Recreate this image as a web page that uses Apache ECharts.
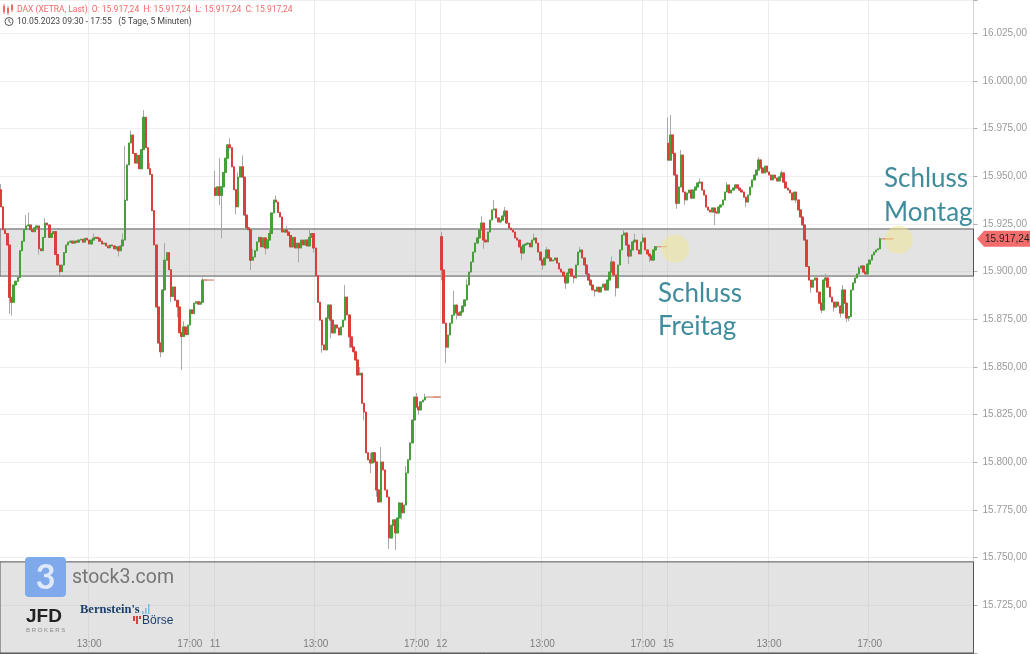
<!DOCTYPE html>
<html>
<head>
<meta charset="utf-8">
<script src="https://cdn.jsdelivr.net/npm/echarts@6.0.0/dist/echarts.min.js"></script>
<style>
html,body{margin:0;padding:0;background:#fff;}
#c{width:1030px;height:654px;}
</style>
</head>
<body>
<div id="c"></div>
<script>
// ---------------- data ----------------
const days = ['10', '11', '12', '15'];
const dayStartTimes = ['09:30', '09:00', '09:00', '09:00'];
const dayOpens = [15943, 15944, 15918.4, 15967.4];
const emptyDay = '16';
const emptySlots = 38;

const closes10 = [
15934,15922,15920,15914,15886.5,15884,15893,15895,15897,15911,
15916,15922,15924,15924.5,15922,15921,15923,15924,15912,15911,
15918,15925.5,15924.5,15918,15920,15921,15909,15903.5,15900,15903.5,
15910,15914,15915.5,15916,15915,15916,15915.5,15916.6,15917,15915.5,
15917.5,15916.6,15914.5,15916.6,15917.5,15918,15917.5,15916,15914.5,15915,
15913.5,15912.5,15914,15913.5,15912,15913,15911,15913.5,15916.6,15937.5,
15956,15967.5,15971.7,15962,15957,15961,15954,15964,15981,15965,
15954,15951,15932,15914,15881.5,15862.6,15858,15890.4,15906,15910,
15901,15887,15892,15885,15881.5,15868,15866,15871,15867,15872,
15880,15878,15883.5,15884.2,15883,15884,15895.6,15895.6,15895.6,15895.6,
15895.6,15895.6
];
const closes11 = [
15940,15944.5,15940,15944.5,15952,15959.5,15966.5,15965,15955,15943,
15934,15949.6,15955,15949.6,15929.7,15923,15922,15906,15907.7,15911,
15915.6,15918,15913,15917.7,15912.4,15916.6,15920,15930.8,15937.6,15936.5,
15931,15928.7,15920.8,15921.9,15920.8,15919,15913,15918,15912.4,15915,
15912.4,15916.6,15914,15916.6,15913.5,15918,15920,15912.4,15898,15884,
15874.6,15861.6,15859,15875.7,15882.5,15874.6,15867.9,15872,15870.5,15866.8,
15871,15874.6,15886.7,15877.3,15865.8,15860.5,15858,15853.7,15845.8,15846.8,
15831,15826.4,15805,15801.3,15799.7,15805,15800.2,15785.5,15779.2,15800.2,
15796,15785.5,15781.8,15760.3,15767,15769.8,15763,15770.8,15778.7,15773.5,
15777.6,15794.4,15801.3,15810.2,15822.2,15834.2,15829,15827.5,15831.7,15832.7,
15834.2,15834.2,15834.2,15834.2,15834.2,15834.2,15834.2,15834.2
];
const closes12 = [
15900.9,15873,15860.4,15866.8,15873,15877.2,15882.5,15878.3,15877.2,15878.9,
15882,15885.2,15893,15899.8,15905.1,15910.3,15915,15917.7,15921.9,15925.5,
15916.6,15915.6,15920.8,15927.1,15932.4,15932.9,15928.2,15926.1,15927,15929.2,
15931.8,15925.5,15922.9,15921.9,15920.8,15917.7,15916.6,15913,15909.8,15914,
15914.5,15915,15913,15916.6,15917.7,15915,15910.3,15906.1,15903.5,15907.2,
15911.4,15907.2,15905.6,15906.1,15907.2,15904.5,15901.4,15899.8,15897.7,15894.1,
15899.3,15901.4,15897.7,15896.7,15903.5,15910.3,15911.4,15907.2,15903.5,15898.8,
15895.6,15893,15890.4,15889.8,15891.9,15889.3,15891.9,15893.5,15890.4,15895.6,
15899.8,15905.1,15898.3,15891.5,15903.5,15911.4,15919.2,15920.3,15914,15908.2,
15911.4,15915.6,15916.6,15911.4,15909.3,15915.6,15917.7,15911.4,15909.3,15908.2,
15906.1,15911.4,15913.1,15913.1,15913.1,15913.1,15913.1,15913.1
];
const closes15 = [
15958.5,15971.7,15962.1,15950.7,15935.9,15944.4,15961.2,15941.8,15937.6,15941.3,
15942.8,15938.6,15942.8,15944.4,15946.5,15947,15942.8,15940.2,15933.9,15932.3,
15931.3,15933.4,15931.3,15930.8,15933.9,15935,15937.6,15941.8,15945.5,15941.3,
15942.8,15943.9,15945.5,15943.9,15942.8,15941.8,15939.1,15936.5,15940.2,15944.4,
15948.1,15950.7,15953.3,15958.6,15954.4,15951.8,15955.4,15952.3,15950.7,15948.1,
15950.7,15949.1,15947.6,15949.7,15951.8,15947,15943.9,15942.8,15941.3,15937.6,
15941.8,15937.6,15932.4,15928.7,15924.5,15916.6,15902.7,15895.6,15891.9,15895.6,
15896.7,15889.3,15883.5,15879.9,15895.6,15896.7,15891.9,15886.7,15884.1,15881.4,
15884.1,15882,15878.3,15890.4,15883.5,15875.7,15876.5,15890.4,15894.1,15896.7,
15898.8,15901.9,15903,15899.8,15898.8,15904,15906.1,15908.8,15910.3,15911.4,
15912,15917.24,15917.24,15917.24,15917.24,15917.24,15917.24,15917.24
];

// wick extremes: [slot index, price]
const wickHighs = [
[0,15946],[12,15929.7],[13,15931],[21,15928],[44,15920],[58,15920],[59,15966],[62,15974],[63,15968],[66,15958],[68,15984.7],[71,15957],[78,15915],[87,15874],[96,15897],
[102,15953],[104,15959.5],[109,15970],[113,15952],[115,15961],[120,15912],[128,15923],[131,15940],[136,15924],[147,15922],[164,15893],[171,15850],[176,15805],[181,15808],[193,15798],[198,15836.3],[202,15836],
[210,15920.8],[216,15890],[222,15896],[229,15929],[235,15937.6],[240,15934],[254,15920],[260,15913],[276,15913],[291,15908],[297,15922.4],[302,15920],[306,15920],
[318,15981],[319,15982.2],[324,15963.8],[333,15949],[346,15947],[361,15960.1],[372,15953],[383,15925],[393,15899],[401,15893],[409,15903],[419,15918]
];
const wickLows = [
[4,15878],[5,15877],[18,15909],[28,15898],[56,15908],[76,15855],[81,15884],[84,15876],[86,15848.5],
[104,15935],[105,15917.6],[112,15930],[119,15900.9],[126,15909],[142,15905],[149,15910],[153,15857.5],[157,15865],[166,15860],[173,15822],[176,15794.4],[179,15782],[185,15754.6],[188,15754],[191,15770],[199,15825],
[210,15895.5],[212,15852],[217,15875],[230,15912],[248,15906],[258,15901],[269,15891],[273,15894],[283,15887],[293,15887],[299,15904],[309,15905],
[322,15933],[326,15935],[340,15924.5],[355,15934],[379,15936],[386,15889],[391,15878.3],[397,15879],[400,15876],[403,15873.6],[404,15874]
];

const tickLabels = {
  '10 13:00': '13:00', '10 17:00': '17:00',
  '11 09:00': '11', '11 13:00': '13:00', '11 17:00': '17:00',
  '12 09:00': '12', '12 13:00': '13:00', '12 17:00': '17:00',
  '15 09:00': '15', '15 13:00': '13:00', '15 17:00': '17:00'
};
const yMin = 15700, yMax = 16042.5, yStep = 25;
const lastPrice = 15917.24;
const bandTop = 15922.4, bandBottom = 15897.7;
const logoBoxTop = 15747.8;
const headerTitle = 'DAX (XETRA, Last)';
const headerRange = '10.05.2023 09:30 - 17:55   (5 Tage, 5 Minuten)';
const noteFriday = 'Schluss\nFreitag';
const noteMonday = 'Schluss\nMontag';

// ---------------- build ----------------
const fmt = v => { const p = v.toFixed(2).split('.'); return p[0].replace(/\B(?=(\d{3})+(?!\d))/g, '.') + ',' + p[1]; };
function times(start, count) {
  const [h, m] = start.split(':').map(Number);
  const out = [];
  let t = h * 60 + m;
  for (let i = 0; i < count; i++, t += 5) {
    out.push(String(Math.floor(t / 60)).padStart(2, '0') + ':' + String(t % 60).padStart(2, '0'));
  }
  return out;
}
const closesByDay = [closes10, closes11, closes12, closes15];
const categories = [];
const ohlc = [];
closesByDay.forEach((cl, d) => {
  times(dayStartTimes[d], cl.length).forEach(t => categories.push(days[d] + ' ' + t));
  cl.forEach((c, i) => {
    const o = i === 0 ? dayOpens[d] : cl[i - 1];
    ohlc.push([o, c]);
  });
});
times('09:00', emptySlots).forEach(t => categories.push(emptyDay + ' ' + t));

const hiMap = {}, loMap = {};
wickHighs.forEach(([k, v]) => hiMap[k] = v);
wickLows.forEach(([k, v]) => loMap[k] = v);

const GREEN = '#46a038', RED = '#d9403c', FLAT = '#ef8a6e', WICK = '#a8a8a8';
const wickData = ohlc.map(([o, c], k) => {
  const hi = Math.max(o, c, hiMap[k] !== undefined ? hiMap[k] : -Infinity);
  const lo = Math.min(o, c, loMap[k] !== undefined ? loMap[k] : Infinity);
  return [o, c, lo, hi];
});
const bodyData = ohlc.map(([o, c]) => {
  const item = { value: [o, c, Math.min(o, c), Math.max(o, c)] };
  if (o === c) item.itemStyle = { color: FLAT, borderColor: FLAT, color0: FLAT, borderColor0: FLAT };
  return item;
});

const isTick = (idx, val) => tickLabels[val] !== undefined;

const chart = echarts.init(document.getElementById('c'), null, { renderer: 'canvas' });
chart.setOption({
  animation: false,
  backgroundColor: '#fff',
  grid: { left: 0, right: 55, top: 0, bottom: 1 },
  xAxis: {
    type: 'category',
    data: categories,
    boundaryGap: true,
    axisLine: { show: true, lineStyle: { color: '#666', width: 1 } },
    axisTick: { show: true, interval: isTick, length: 3, lineStyle: { color: '#777' } },
    axisLabel: {
      inside: true, interval: isTick, margin: 4,
      formatter: v => tickLabels[v] || '',
      color: '#555', fontSize: 10, fontFamily: 'Liberation Sans, Arial, sans-serif'
    },
    splitLine: { show: true, interval: isTick, lineStyle: { color: '#ececec', width: 1 } }
  },
  yAxis: {
    type: 'value',
    position: 'right',
    min: yMin, max: yMax, interval: yStep,
    axisLine: { show: true, lineStyle: { color: '#d4d4d4' } },
    axisTick: { show: true, length: 4, lineStyle: { color: '#b0b0b0' } },
    axisLabel: {
      margin: 9, color: '#9a9a9a', fontSize: 10, fontFamily: 'Liberation Sans, Arial, sans-serif',
      formatter: v => (v === yMin || Math.abs(v % yStep) > 1e-6) ? '' : fmt(v)
    },
    splitLine: { show: true, lineStyle: { color: '#efefef' } }
  },
  series: [
    {
      type: 'candlestick',
      name: 'wicks',
      data: wickData,
      barWidth: 2,
      z: 2,
      itemStyle: { color: WICK, color0: WICK, borderColor: WICK, borderColor0: WICK, borderWidth: 1 },
      markArea: {
        silent: true,
        itemStyle: { color: 'rgba(185,185,185,0.4)', borderColor: '#555', borderWidth: 1 },
        data: [
          [{ yAxis: bandTop }, { yAxis: bandBottom }],
          [{ yAxis: logoBoxTop }, { yAxis: yMin }]
        ]
      }
    },
    {
      type: 'candlestick',
      name: 'DAX',
      data: bodyData,
      barWidth: 2,
      z: 3,
      itemStyle: { color: GREEN, color0: RED, borderColor: GREEN, borderColor0: RED, borderWidth: 1 }
    }
  ]
});

// ---------------- annotations ----------------
const yLast = chart.convertToPixel({ yAxisIndex: 0 }, lastPrice);
const nData = ohlc.length;
const fridayEnd = chart.convertToPixel({ gridIndex: 0 }, [closes10.length + closes11.length + closes12.length - 1, closes12[closes12.length - 1]]);
const mondayEnd = chart.convertToPixel({ gridIndex: 0 }, [nData - 1, lastPrice]);
const teal = '#3f8c9c';
const hdrColor = '#ee6a66';
const graphics = [
  // header icon (candles)
  { type: 'rect', shape: { x: 3, y: 6, width: 2, height: 6 }, style: { fill: hdrColor } },
  { type: 'line', shape: { x1: 4, y1: 4, x2: 4, y2: 14 }, style: { stroke: hdrColor, lineWidth: 1 } },
  { type: 'rect', shape: { x: 7, y: 8, width: 2, height: 5 }, style: { fill: hdrColor } },
  { type: 'line', shape: { x1: 8, y1: 6, x2: 8, y2: 15 }, style: { stroke: hdrColor, lineWidth: 1 } },
  { type: 'rect', shape: { x: 11, y: 5, width: 2, height: 5 }, style: { fill: hdrColor } },
  { type: 'line', shape: { x1: 12, y1: 4, x2: 12, y2: 12 }, style: { stroke: hdrColor, lineWidth: 1 } },
  { type: 'text', x: 17, y: 9.5, style: { text: headerTitle + '  O: ' + fmt(lastPrice) + '  H: ' + fmt(lastPrice) + '  L: ' + fmt(lastPrice) + '  C: ' + fmt(lastPrice), fill: hdrColor, font: '8.5px Roboto, sans-serif', textVerticalAlign: 'middle' } },
  // clock icon
  { type: 'circle', shape: { cx: 9, cy: 21.5, r: 4 }, style: { fill: 'none', stroke: '#555', lineWidth: 1 } },
  { type: 'polyline', shape: { points: [[9, 19], [9, 21.5], [10.8, 22.8]] }, style: { fill: 'none', stroke: '#555', lineWidth: 1 } },
  { type: 'text', x: 17, y: 21.5, style: { text: headerRange, fill: '#444', font: '8.6px Roboto, sans-serif', textVerticalAlign: 'middle' } },
  // last price tag
  { type: 'polygon', z: 10, shape: { points: [[977, yLast], [984, yLast - 8], [1030, yLast - 8], [1030, yLast + 8], [984, yLast + 8]] }, style: { fill: '#f26d6b' } },
  { type: 'text', z: 11, x: 985, y: yLast, style: { text: fmt(lastPrice), fill: '#222', font: '10px Liberation Sans, Arial, sans-serif', textVerticalAlign: 'middle' } },
  // highlight circles
  { type: 'circle', z: 6, shape: { cx: fridayEnd[0] + 9, cy: fridayEnd[1] + 2, r: 14 }, style: { fill: 'rgba(240,232,150,0.55)' } },
  { type: 'circle', z: 6, shape: { cx: mondayEnd[0] + 6, cy: mondayEnd[1] + 1, r: 14 }, style: { fill: 'rgba(240,232,150,0.55)' } },
  // notes
  { type: 'text', z: 7, x: 658, y: 277, style: { text: noteFriday, fill: teal, font: '26px Lato, sans-serif', lineHeight: 33 } },
  { type: 'text', z: 7, x: 884, y: 162, style: { text: noteMonday, fill: teal, font: '26px Lato, sans-serif', lineHeight: 34 } },
  // stock3 logo
  { type: 'rect', z: 8, shape: { x: 25, y: 557, width: 41, height: 40, r: 4 }, style: { fill: '#7fa9ea' } },
  { type: 'text', z: 9, x: 45.5, y: 578, style: { text: '3', fill: '#dfe9fb', font: 'bold 34px Lato, sans-serif', textAlign: 'center', textVerticalAlign: 'middle' } },
  { type: 'text', z: 9, x: 72, y: 578, style: { text: 'stock3.com', fill: '#767676', font: '19.5px Roboto, sans-serif', textVerticalAlign: 'middle' } },
  // JFD logo
  { type: 'text', z: 9, x: 26, y: 617, style: { text: 'JFD', fill: '#222', font: 'bold 19px Liberation Sans, Arial, sans-serif', textVerticalAlign: 'middle' } },
  { type: 'text', z: 9, x: 26, y: 630, style: { text: 'B R O K E R S', fill: '#888', font: '6px Liberation Sans, Arial, sans-serif', textVerticalAlign: 'middle' } },
  // Bernstein's Börse logo
  { type: 'text', z: 9, x: 80, y: 610, style: { text: "Bernstein's", fill: '#1d3e6c', font: 'bold 12.5px Liberation Serif, serif', textVerticalAlign: 'middle' } },
  { type: 'rect', z: 9, shape: { x: 142, y: 611, width: 1.5, height: 3 }, style: { fill: '#6cc0e8' } },
  { type: 'rect', z: 9, shape: { x: 145, y: 608, width: 1.5, height: 6 }, style: { fill: '#6cc0e8' } },
  { type: 'rect', z: 9, shape: { x: 148, y: 604, width: 1.5, height: 10 }, style: { fill: '#6cc0e8' } },
  { type: 'rect', z: 9, shape: { x: 133, y: 616, width: 2, height: 5 }, style: { fill: '#d94040' } },
  { type: 'rect', z: 9, shape: { x: 136, y: 616, width: 2, height: 8 }, style: { fill: '#d94040' } },
  { type: 'rect', z: 9, shape: { x: 139, y: 616, width: 2, height: 3 }, style: { fill: '#d94040' } },
  { type: 'text', z: 9, x: 142, y: 621, style: { text: 'Börse', fill: '#1d3e6c', font: '12px Liberation Sans, Arial, sans-serif', textVerticalAlign: 'middle' } }
];
chart.setOption({ graphic: graphics });
</script>
</body>
</html>
